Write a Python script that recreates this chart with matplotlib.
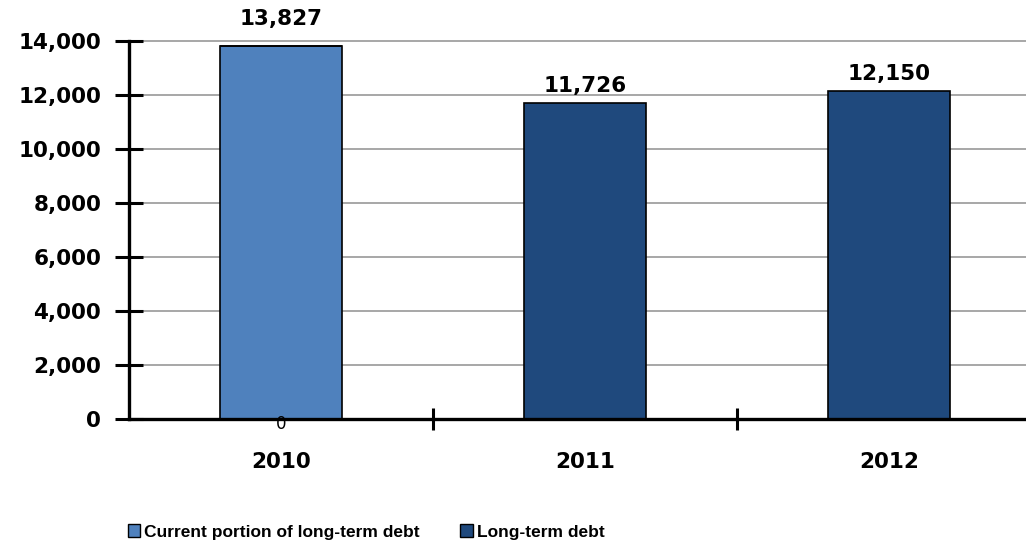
import matplotlib
matplotlib.use("Agg")
import matplotlib.pyplot as plt
from matplotlib.patches import Patch
import numpy as np

categories = ["2010", "2011", "2012"]
current_portion = [13827, 0, 0]
long_term_debt = [0, 11726, 12150]
series_names = ["Current portion of long-term debt", "Long-term debt"]
yticks = [0, 2000, 4000, 6000, 8000, 10000, 12000, 14000]

c_light = "#4F81BD"
c_dark = "#1F497D"

plt.rcParams['font.family'] = ['DejaVu Sans']

W, H = 1026, 549
fig = plt.figure(figsize=(W / 100, H / 100), dpi=100)
left_px, right_px = 129, 1041
top_px, bot_px = 41.3, 418.7
ax = fig.add_axes([left_px / W, 1 - bot_px / H, (right_px - left_px) / W, (bot_px - top_px) / H])

x = np.arange(len(categories))
bw = 0.40
ax.bar(x, current_portion, bw, color=c_light, edgecolor="black", linewidth=1.2, zorder=3)
ax.bar(x, long_term_debt, bw, bottom=current_portion, color=c_dark, edgecolor="black", linewidth=1.2, zorder=3)

ax.set_xlim(-0.5, len(categories) - 0.5)
ax.set_ylim(0, 14000)
ax.set_yticks(yticks)
ax.set_yticklabels([f"{v:,}" for v in yticks], fontsize=15.5, fontweight="bold")
for v in yticks[1:]:
    ax.axhline(v, color="#A0A0A0", linewidth=1.3, zorder=0, clip_on=False)

ax.set_xticks(np.arange(len(categories) - 1) + 0.5)
ax.set_xticklabels([])
ax.set_xticks(x, minor=True)
ax.set_xticklabels(categories, minor=True, fontsize=15.5, fontweight="bold")
ax.tick_params(axis="x", which="major", direction="inout", length=16, width=2.2)
ax.tick_params(axis="x", which="minor", length=0, pad=24)
ax.tick_params(axis="y", direction="inout", length=20, width=2.2, pad=10)

for s in ["top", "right"]:
    ax.spines[s].set_visible(False)
for s in ["left", "bottom"]:
    ax.spines[s].set_linewidth(2.4)
ax.spines["bottom"].set_zorder(4)

# data labels
for i in range(len(categories)):
    total = current_portion[i] + long_term_debt[i]
    off = 12 if current_portion[i] > 0 else 5
    ax.annotate(f"{total:,}", (x[i], total), xytext=(0, off), textcoords="offset points",
                ha="center", va="bottom", fontsize=15.5, fontweight="bold", annotation_clip=False)
    if current_portion[i] > 0 and long_term_debt[i] == 0:
        ax.annotate("0", (x[i], 0), xytext=(0, -4), textcoords="offset points",
                    ha="center", va="center", fontsize=12, annotation_clip=False, zorder=5)

handles = [Patch(facecolor=c_light, edgecolor="black", linewidth=1.0),
           Patch(facecolor=c_dark, edgecolor="black", linewidth=1.0)]
fig.legend(handles, series_names, loc="center left", bbox_to_anchor=(112 / W, 1 - 532 / H),
           ncol=2, frameon=False, handlelength=0.72, handleheight=0.72, handletextpad=0.25,
           columnspacing=2.3,
           prop={"family": ["Liberation Sans", "DejaVu Sans"], "size": 12.5, "weight": "bold"})

fig.savefig("out.png", dpi=100)
